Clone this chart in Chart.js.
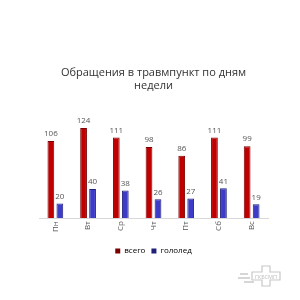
<!DOCTYPE html>
<html>
<head>
<meta charset="utf-8">
<script src="https://cdn.jsdelivr.net/npm/chart.js@4"></script>
<style>
  html, body { margin: 0; padding: 0; background: #ffffff; }
  #wrap { position: relative; width: 300px; height: 300px; }
  #logo { position: absolute; left: 236px; top: 262px; width: 56px; height: 28px; }
</style>
</head>
<body>
<div id="wrap">
  <canvas id="chart" width="300" height="300"></canvas>
  <svg id="logo" viewBox="0 0 56 28">
    <path d="M26 4 h8 v6 h10 v8 h-10 v6 h-8 v-6 h-10 v-8 h10 z" fill="none" stroke="#c8c8c8" stroke-width="1.2"/>
    <line x1="4" y1="12" x2="12" y2="12" stroke="#c8c8c8" stroke-width="1.5"/>
    <line x1="2" y1="16" x2="14" y2="16" stroke="#c8c8c8" stroke-width="1.5"/>
    <line x1="8" y1="20" x2="18" y2="20" stroke="#c8c8c8" stroke-width="1.5"/>
    <text x="30" y="17" font-family="Open Sans" font-size="5.5" fill="#bdbdbd" text-anchor="middle">ГКБСМП</text>
  </svg>
</div>
<script>
  const days = ["Пн", "Вт", "Ср", "Чт", "Пт", "Сб", "Вс"];
  const totalValues = [106, 124, 111, 98, 86, 111, 99];
  const iceValues = [20, 40, 38, 26, 27, 41, 19];
  const seriesNames = ["всего", "гололед"];

  /* value labels above bars */
  const valueLabels = {
    id: "valueLabels",
    afterDatasetsDraw(chart) {
      const ctx = chart.ctx;
      ctx.save();
      ctx.font = "8px 'Open Sans'";
      ctx.fillStyle = "#555";
      ctx.textAlign = "center";
      ctx.textBaseline = "bottom";
      chart.data.datasets.forEach((ds, i) => {
        chart.getDatasetMeta(i).data.forEach((bar, j) => {
          ctx.fillText(ds.data[j], bar.x, bar.y - 3);
        });
      });
      ctx.restore();
    }
  };

  new Chart(document.getElementById("chart"), {
    type: "bar",
    data: {
      labels: days,
      datasets: [
        {
          label: seriesNames[0],
          data: totalValues,
          backgroundColor: "#c00000",
          borderColor: "#7a0000",
          borderWidth: 1
        },
        {
          label: seriesNames[1],
          data: iceValues,
          backgroundColor: "#3c3cc8",
          borderColor: "#20207a",
          borderWidth: 1
        }
      ]
    },
    options: {
      responsive: false,
      animation: false,
      categoryPercentage: 0.55,
      barPercentage: 0.75,
      layout: { padding: { left: 39, right: 32, top: 66, bottom: 35 } },
      plugins: {
        title: {
          display: true,
          text: ["Обращения в травмпункт по дням", "недели"],
          color: "#333",
          font: { family: "Open Sans", size: 11, weight: "normal", lineHeight: 1.2 },
          padding: { top: 0, bottom: 24 }
        },
        legend: {
          position: "bottom",
          labels: {
            boxWidth: 5,
            boxHeight: 5,
            padding: 6,
            color: "#555",
            font: { family: "Open Sans", size: 8 },
            generateLabels(chart) {
              const cols = ["#7a0000", "#20207a"];
              return chart.data.datasets.map((ds, i) => ({
                text: ds.label,
                fillStyle: cols[i],
                strokeStyle: cols[i],
                lineWidth: 0,
                datasetIndex: i
              }));
            }
          }
        },
        tooltip: { enabled: false }
      },
      scales: {
        x: {
          grid: { display: false, drawTicks: false },
          border: { color: "#d9d9d9" },
          afterFit(scale) { scale.height += 6; },
          ticks: {
            minRotation: 90,
            maxRotation: 90,
            padding: 3,
            color: "#555",
            font: { family: "Open Sans", size: 8 }
          }
        },
        y: {
          display: false,
          min: 0,
          max: 140
        }
      }
    },
    plugins: [valueLabels]
  });
</script>
</body>
</html>
